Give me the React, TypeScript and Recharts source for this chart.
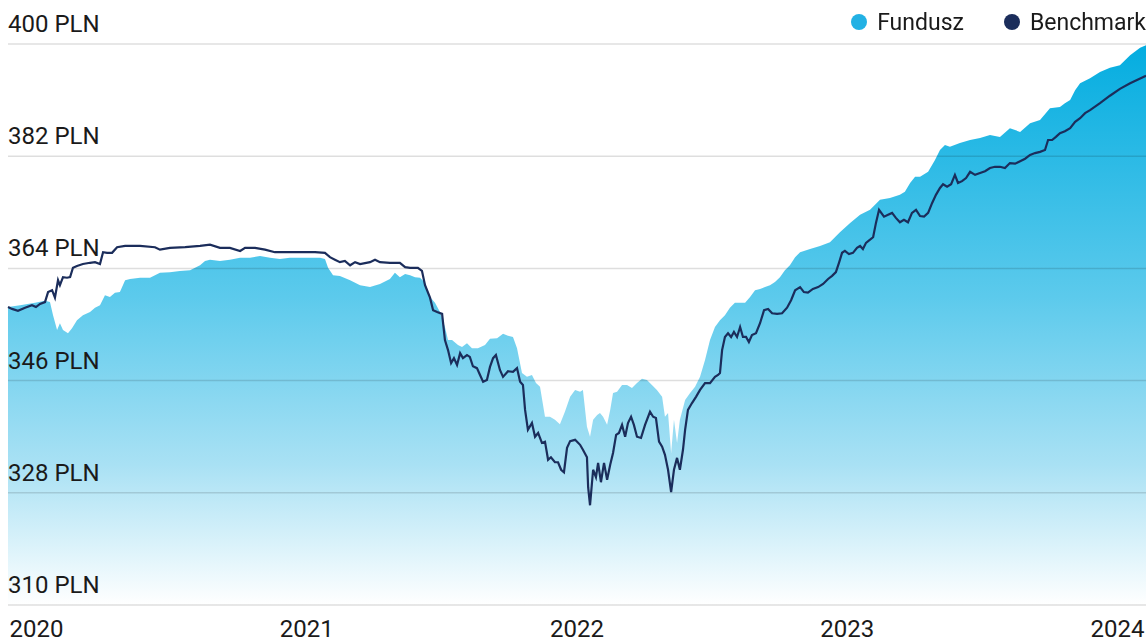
import { ComposedChart, Area, Line, XAxis, YAxis, ReferenceLine } from 'recharts';

// months since Jan 2020 on the x axis
const yearTicks = [0, 12, 24, 36, 48];
const yearLabels = ['2020', '2021', '2022', '2023', '2024'];
const valueTicks = [310, 328, 346, 364, 382, 400];

const fundMonths = [
  0, 0.51, 1.14, 1.56, 1.77, 1.9, 2.07, 2.19, 2.32, 2.53, 2.7, 2.91, 3.16, 3.46, 3.67, 3.88,
  4.09, 4.3, 4.51, 4.72, 4.94, 5.15, 5.57, 5.99, 6.41, 6.83, 7.25, 7.68, 8.1, 8.31, 8.52, 8.94,
  9.36, 9.79, 10.21, 10.63, 11.05, 11.47, 11.89, 12.32, 12.74, 13.16, 13.37, 13.5, 13.71, 14.0,
  14.43, 14.85, 15.27, 15.69, 16.11, 16.32, 16.53, 16.75, 16.96, 17.17, 17.38, 17.59, 17.8,
  18.01, 18.22, 18.43, 18.56, 18.73, 18.98, 19.15, 19.36, 19.57, 19.82, 20.12, 20.33, 20.63,
  20.88, 21.09, 21.3, 21.47, 21.68, 21.89, 22.1, 22.27, 22.44, 22.65, 22.86, 23.07, 23.28,
  23.49, 23.71, 23.92, 24.13, 24.25, 24.42, 24.55, 24.68, 24.85, 24.97, 25.1, 25.27, 25.4,
  25.52, 25.69, 25.9, 26.11, 26.32, 26.53, 26.74, 26.95, 27.16, 27.37, 27.59, 27.71, 27.84,
  27.97, 28.09, 28.22, 28.34, 28.56, 28.77, 28.98, 29.19, 29.4, 29.61, 29.82, 30.03, 30.24,
  30.45, 30.66, 31.09, 31.3, 31.51, 31.72, 31.93, 32.14, 32.35, 32.56, 32.77, 32.98, 33.2,
  33.41, 33.83, 34.25, 34.67, 35.09, 35.52, 35.94, 36.36, 36.78, 37.2, 37.62, 37.83, 38.05,
  38.26, 38.47, 38.81, 39.1, 39.31, 39.52, 39.73, 40.15, 40.58, 41.0, 41.42, 41.84, 42.26,
  42.69, 43.11, 43.53, 43.95, 44.37, 44.58, 44.8, 45.01, 45.22, 45.64, 46.06, 46.48, 46.9,
  47.33, 47.75, 48,
];
const fundValues = [
  357.8, 358.1, 358.5, 358.8, 358.6, 356.5, 354.1, 355.2, 354.1, 353.6, 354.4, 355.7, 356.5, 357.0, 357.7, 358.1,
  359.7, 359.4, 360.1, 360.2, 362.1, 362.3, 362.5, 362.5, 363.3, 363.4, 363.6, 363.7, 364.5, 365.2, 365.4, 365.2,
  365.4, 365.7, 365.7, 366.0, 365.7, 365.5, 365.7, 365.7, 365.7, 365.7, 365.5, 364.1, 362.9, 362.8,
  362.1, 361.3, 361.0, 361.5, 362.3, 363.3, 362.6, 363.1, 362.9, 362.6, 362.5, 361.7, 359.4,
  358.5, 357.0, 354.6, 352.5, 352.5, 351.7, 351.4, 352.0, 351.2, 351.2, 351.7, 352.7, 352.8,
  353.5, 353.2, 353.0, 351.2, 347.2, 346.6, 346.9, 345.6, 345.0, 340.2, 340.2, 339.7, 339.0,
  341.0, 343.4, 344.5, 344.2, 344.5, 338.6, 337.0, 339.7, 340.5, 340.8, 340.2, 338.9, 341.3,
  344.0, 344.2, 345.3, 345.3, 344.8, 345.6, 346.3, 346.1, 345.3, 344.5, 343.4, 340.2, 340.8,
  334.4, 339.7, 336.0, 339.7, 342.9, 344.0, 345.0, 346.6, 349.3, 352.5, 354.6, 355.7, 356.5,
  357.7, 358.5, 358.5, 359.4, 360.5, 360.7, 361.0, 361.3, 361.8, 362.6, 363.7, 364.5, 365.8,
  366.6, 367.1, 367.6, 368.2, 369.8, 371.3, 372.6, 373.4, 375.0, 375.3, 375.8, 376.3, 377.7,
  378.7, 378.7, 379.5, 381.4, 383.0, 383.8, 383.5, 384.1, 384.6, 384.9, 385.4, 385.1, 386.5,
  385.9, 387.3, 387.8, 389.7, 389.9, 390.5, 391.0, 392.6, 393.7, 394.5, 395.5, 396.2, 396.6,
  398.2, 399.4, 399.8,
];

const benchMonths = [
  0, 0.17, 0.42, 0.72, 1.01, 1.18, 1.35, 1.56, 1.69, 1.86, 1.98, 2.11, 2.19, 2.32, 2.49, 2.62,
  2.74, 2.91, 3.16, 3.46, 3.67, 3.88, 4.01, 4.18, 4.39, 4.6, 4.94, 5.57, 6.2, 6.41, 6.83, 7.47,
  8.1, 8.52, 8.94, 9.36, 9.79, 10.0, 10.42, 10.84, 11.26, 11.68, 12.11, 12.53, 12.95, 13.37,
  13.58, 13.79, 14.0, 14.21, 14.43, 14.64, 14.85, 15.27, 15.48, 15.69, 16.11, 16.53, 16.75,
  16.96, 17.29, 17.46, 17.59, 17.8, 17.93, 18.1, 18.31, 18.43, 18.56, 18.69, 18.81, 18.94,
  19.07, 19.19, 19.36, 19.48, 19.61, 19.78, 19.91, 20.04, 20.2, 20.33, 20.46, 20.58, 20.75,
  20.88, 21.09, 21.3, 21.47, 21.6, 21.72, 21.81, 21.93, 22.1, 22.23, 22.36, 22.52, 22.65,
  22.78, 22.9, 23.07, 23.2, 23.33, 23.45, 23.58, 23.71, 23.92, 24.13, 24.25, 24.42, 24.47,
  24.55, 24.68, 24.8, 24.89, 25.01, 25.14, 25.27, 25.4, 25.52, 25.65, 25.77, 25.9, 26.03,
  26.15, 26.28, 26.4, 26.53, 26.7, 26.87, 27.08, 27.21, 27.33, 27.46, 27.59, 27.71, 27.84,
  27.97, 28.09, 28.22, 28.34, 28.47, 28.56, 28.68, 28.85, 29.02, 29.19, 29.4, 29.61, 29.82,
  29.95, 30.03, 30.12, 30.24, 30.37, 30.5, 30.62, 30.75, 30.88, 31.0, 31.13, 31.25, 31.38,
  31.55, 31.72, 31.89, 32.06, 32.23, 32.44, 32.65, 32.86, 33.03, 33.2, 33.41, 33.57, 33.74,
  33.95, 34.17, 34.38, 34.59, 34.76, 34.92, 35.05, 35.18, 35.3, 35.47, 35.64, 35.81, 35.94,
  36.06, 36.19, 36.36, 36.49, 36.61, 36.74, 36.95, 37.12, 37.29, 37.45, 37.62, 37.79, 37.96,
  38.13, 38.3, 38.47, 38.64, 38.81, 38.98, 39.14, 39.31, 39.44, 39.61, 39.78, 39.94, 40.07,
  40.24, 40.41, 40.58, 40.79, 41.0, 41.21, 41.42, 41.63, 41.84, 42.05, 42.26, 42.48, 42.69,
  42.9, 43.11, 43.32, 43.53, 43.74, 43.87, 44.04, 44.2, 44.37, 44.58, 44.8, 45.01, 45.22,
  45.43, 45.64, 46.06, 46.48, 46.9, 47.33, 48,
];
const benchValues = [
  357.8, 357.5, 357.2, 357.7, 358.1, 357.8, 358.3, 358.6, 360.2, 360.5, 359.3, 362.1, 361.3, 362.6, 362.5, 362.6,
  364.1, 364.4, 364.7, 364.9, 365.0, 364.7, 366.6, 366.5, 366.5, 367.4, 367.6, 367.6, 367.4, 367.0, 367.3, 367.4,
  367.6, 367.8, 367.3, 367.3, 366.8, 367.3, 367.3, 367.0, 366.6, 366.6, 366.6, 366.6, 366.6, 366.5,
  365.8, 365.4, 365.0, 365.2, 364.5, 365.0, 364.7, 365.0, 365.4, 365.0, 364.9, 364.9, 364.2,
  364.1, 364.1, 363.6, 361.3, 359.3, 357.3, 357.0, 356.7, 352.5, 350.9, 348.8, 349.6, 348.5,
  350.4, 349.6, 350.1, 349.8, 348.3, 348.0, 346.9, 345.8, 346.1, 348.2, 349.6, 350.1, 347.7,
  346.6, 347.5, 347.4, 348.0, 345.8, 345.3, 341.3, 338.1, 339.2, 337.0, 337.6, 336.0, 336.2,
  333.3, 333.7, 332.9, 332.9, 331.7, 331.3, 335.2, 336.3, 336.5, 335.7, 334.9, 333.7, 328.9,
  326.0, 331.7, 330.5, 332.8, 329.7, 332.8, 330.1, 332.5, 334.4, 337.3, 337.6, 338.9, 337.0,
  339.2, 340.2, 338.9, 337.0, 336.8, 338.9, 341.0, 340.2, 340.0, 336.2, 335.4, 334.1, 331.7,
  328.1, 331.7, 333.6, 331.7, 334.9, 338.1, 341.3, 342.4, 343.4, 344.5, 345.6, 345.6, 346.6,
  346.9, 347.2, 350.9, 353.0, 353.6, 353.0, 353.8, 353.0, 354.6, 353.0, 353.0, 352.2, 353.3,
  353.6, 355.2, 357.3, 357.5, 356.8, 356.7, 356.8, 357.7, 358.9, 360.5, 361.0, 360.2, 360.1,
  360.7, 361.0, 361.5, 362.3, 362.8, 363.4, 364.9, 366.5, 366.8, 366.3, 366.5, 367.3, 367.6,
  367.1, 368.1, 368.6, 369.0, 371.3, 373.4, 372.3, 372.6, 372.9, 372.1, 371.4, 371.8, 371.4,
  372.9, 373.4, 372.4, 372.3, 372.9, 374.5, 375.8, 376.9, 377.5, 377.1, 377.5, 379.0, 377.7,
  378.0, 378.5, 379.5, 379.0, 379.3, 379.6, 380.1, 380.3, 380.3, 380.1, 380.9, 380.8, 381.2,
  381.6, 382.2, 382.5, 382.7, 383.0, 384.6, 384.6, 385.1, 385.7, 386.0, 386.5, 387.5, 388.1,
  388.9, 389.4, 390.5, 391.7, 392.8, 393.7, 394.9,
];

const fundData = fundMonths.map((m, i) => ({ m, fundusz: fundValues[i] }));
const benchData = benchMonths.map((m, i) => ({ m, benchmark: benchValues[i] }));

// the chart covers the whole window; the plot keeps the usual 8px inset on the left/top
const W = 1146;
const H = 643;
const INSET = 8;
const PLOT_W = W - INSET;
const FONT = 'Roboto, "Noto Sans", sans-serif';
const TEXT = '#1a1a1a';
const FUND_COLOR = '#22b1e4';
const BENCH_COLOR = '#1b2d5b';

// value label sits just above its gridline, flush left
const gridLabel = (v: number) => (props: any) => {
  const { viewBox } = props;
  return (
    <text x={viewBox.x} y={viewBox.y - 12} textAnchor="start" fontFamily={FONT} fontSize={24} fill={TEXT}>
      {v} PLN
    </text>
  );
};

// year labels are spread edge to edge like a space-between row
const YearTick = (props: any) => {
  const { index } = props;
  const labelW = 57;
  const cx = INSET + labelW / 2 + (index * (PLOT_W - labelW)) / (yearLabels.length - 1);
  return (
    <text x={cx} y={H - 6} textAnchor="middle" fontFamily={FONT} fontSize={24} fill={TEXT}>
      {yearLabels[index]}
    </text>
  );
};

const LegendItem = ({ color, label }: { color: string; label: string }) => (
  <div style={{ display: 'flex', alignItems: 'center', gap: 10 }}>
    <span style={{ width: 16, height: 16, borderRadius: '50%', background: color, display: 'inline-block' }} />
    <span>{label}</span>
  </div>
);

export default function App() {
  return (
    <div style={{ position: 'fixed', left: 0, top: 0, width: W, height: H, fontFamily: FONT, background: '#fff' }}>
      <div
        style={{
          position: 'absolute',
          top: INSET,
          right: 0,
          height: 28,
          display: 'flex',
          alignItems: 'center',
          gap: 40,
          fontSize: 23,
          color: TEXT,
          zIndex: 2,
        }}
      >
        <LegendItem color={FUND_COLOR} label="Fundusz" />
        <LegendItem color={BENCH_COLOR} label="Benchmark" />
      </div>
      <ComposedChart width={W} height={H} margin={{ top: 44, right: 0, bottom: 0, left: INSET }}>
        <defs>
          <linearGradient id="fundGradient" x1="0" y1="0" x2="0" y2="1">
            <stop offset="0%" stopColor="#04ade0" />
            <stop offset="45%" stopColor="#5ccaec" />
            <stop offset="75%" stopColor="#a9e1f4" />
            <stop offset="100%" stopColor="#ffffff" />
          </linearGradient>
        </defs>
        <XAxis
          dataKey="m"
          type="number"
          domain={[0, 48]}
          ticks={yearTicks}
          interval={0}
          height={38}
          axisLine={false}
          tickLine={false}
          tick={<YearTick />}
        />
        <YAxis type="number" domain={[310, 400]} ticks={valueTicks} width={0} hide />
        <Area
          data={fundData}
          dataKey="fundusz"
          type="linear"
          stroke="none"
          fill="url(#fundGradient)"
          fillOpacity={1}
          isAnimationActive={false}
        />
        {valueTicks.map((v) => (
          <ReferenceLine key={v} y={v} stroke="rgba(0,0,0,0.13)" strokeWidth={1.5} label={gridLabel(v)} />
        ))}
        <Line
          data={benchData}
          dataKey="benchmark"
          type="linear"
          stroke={BENCH_COLOR}
          strokeWidth={2.2}
          dot={false}
          isAnimationActive={false}
        />
      </ComposedChart>
    </div>
  );
}
